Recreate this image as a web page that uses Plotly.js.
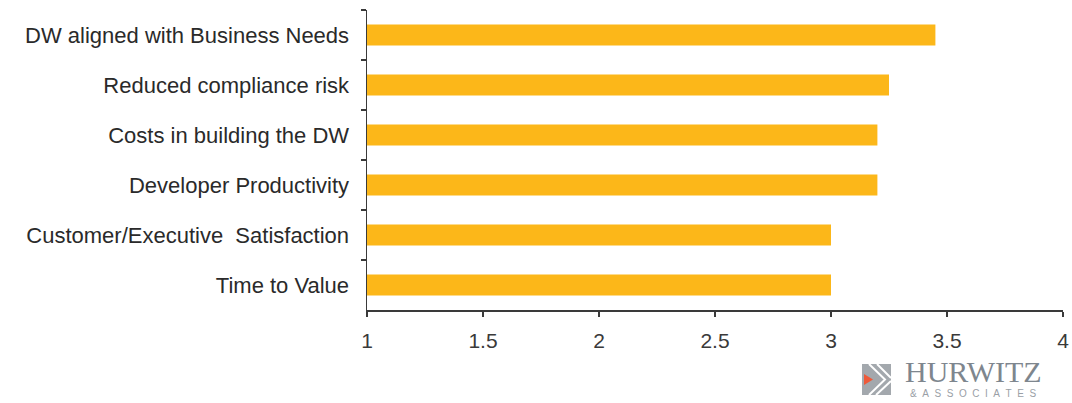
<!DOCTYPE html>
<html>
<head>
<meta charset="utf-8">
<script src="https://cdn.plot.ly/plotly-3.0.1.min.js"></script>
<style>html,body{margin:0;padding:0;background:#fff;}#chart{width:1072px;height:403px;}</style>
</head>
<body>
<div id="chart"></div>
<script>
const categories = [
  "DW aligned with Business Needs",
  "Reduced compliance risk",
  "Costs in building the DW",
  "Developer Productivity",
  "Customer/Executive  Satisfaction",
  "Time to Value"
];
const values = [3.45, 3.25, 3.2, 3.2, 3.0, 3.0];
const xTickValues = [1, 1.5, 2, 2.5, 3, 3.5, 4];
const xTickLabels = ["1", "1.5", "2", "2.5", "3", "3.5", "4"];

// plot area in pixels: x 367..1063, y 10..310
const L = 367, W = 696, T = 10, H = 300;
const px = x => (x - L) / W;
const py = y => (T + H - y) / H;

const trace = {
  type: 'bar',
  orientation: 'h',
  y: categories,
  x: values.map(v => v - 1),
  base: 1,
  width: 0.42,
  marker: {color: '#FCB719', line: {width: 0}},
  hoverinfo: 'none'
};

const logoShapes = [
  {type: 'rect', xref: 'paper', yref: 'paper', x0: px(862), x1: px(891), y0: py(395), y1: py(364),
   fillcolor: '#A3A8AD', line: {width: 0}, layer: 'above'},
  {type: 'path', xref: 'paper', yref: 'paper',
   path: `M ${px(869)} ${py(364)} L ${px(885)} ${py(379.5)} L ${px(869)} ${py(395)}`,
   line: {color: '#ffffff', width: 2}, layer: 'above'},
  {type: 'path', xref: 'paper', yref: 'paper',
   path: `M ${px(877)} ${py(364)} L ${px(891)} ${py(378)}`,
   line: {color: '#ffffff', width: 2}, layer: 'above'},
  {type: 'path', xref: 'paper', yref: 'paper',
   path: `M ${px(876)} ${py(395)} L ${px(891)} ${py(381)}`,
   line: {color: '#ffffff', width: 2}, layer: 'above'},
  {type: 'path', xref: 'paper', yref: 'paper',
   path: `M ${px(864)} ${py(374)} L ${px(873)} ${py(379.5)} L ${px(864)} ${py(385)} Z`,
   fillcolor: '#EE5A3A', line: {width: 0}, layer: 'above'}
];

const sp = '\u00A0\u00A0';
const assocText = ['&amp;', 'A', 'S', 'S', 'O', 'C', 'I', 'A', 'T', 'E', 'S'].join(sp);

const layout = {
  width: 1072,
  height: 403,
  margin: {l: L, r: 1072 - L - W, t: T, b: 403 - T - H, pad: 0},
  paper_bgcolor: '#ffffff',
  plot_bgcolor: '#ffffff',
  showlegend: false,
  font: {family: '"Liberation Sans", Arial, sans-serif', color: '#2a2a2a'},
  xaxis: {
    range: [1, 4],
    tickvals: xTickValues,
    ticktext: xTickLabels,
    showgrid: false,
    zeroline: false,
    showline: true,
    linecolor: '#3a3a3a',
    linewidth: 1.5,
    ticks: 'outside',
    ticklen: 5,
    tickwidth: 1.5,
    tickcolor: '#3a3a3a',
    tickfont: {size: 21, color: '#3a3a3a'},
    ticklabelstandoff: 6
  },
  yaxis: {
    type: 'category',
    categoryorder: 'array',
    categoryarray: categories,
    range: [5.5, -0.5],
    showgrid: false,
    zeroline: false,
    showline: true,
    linecolor: '#3a3a3a',
    linewidth: 1.5,
    ticks: 'outside',
    tickson: 'boundaries',
    ticklen: 5,
    tickwidth: 1.5,
    tickcolor: '#3a3a3a',
    tickfont: {size: 22, color: '#2a2a2a'},
    ticklabelstandoff: 12
  },
  shapes: logoShapes,
  annotations: [
    {xref: 'paper', yref: 'paper', x: px(973), y: py(372), xanchor: 'center', yanchor: 'middle',
     text: 'HURWITZ', showarrow: false,
     font: {family: '"Liberation Serif", "DejaVu Serif", serif', size: 30, color: '#7E868E'}},
    {xref: 'paper', yref: 'paper', x: px(973), y: py(393), xanchor: 'center', yanchor: 'middle',
     text: assocText, showarrow: false,
     font: {family: '"Liberation Sans", Arial, sans-serif', size: 10, color: '#9AA0A6'}}
  ]
};

Plotly.newPlot('chart', [trace], layout, {staticPlot: true, displayModeBar: false});
</script>
</body>
</html>
